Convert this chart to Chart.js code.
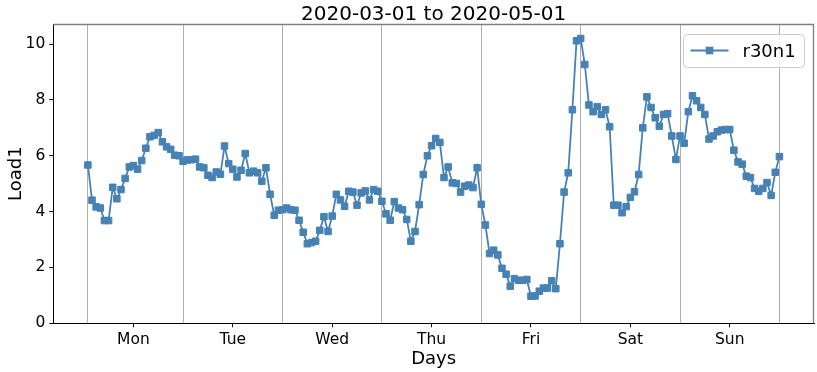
<!DOCTYPE html>
<html><head><meta charset="utf-8">
<script src="https://cdn.jsdelivr.net/npm/chart.js@4/dist/chart.umd.min.js"></script>
<style>html,body{margin:0;padding:0;background:#fff}canvas{display:block}</style>
</head><body>
<canvas id="c" width="817" height="372"></canvas>
<script>
const chartTitle = '2020-03-01 to 2020-05-01';
const seriesName = 'r30n1';
const xTitle = 'Days';
const yTitle = 'Load1';
const dayLabels = ['Mon', 'Tue', 'Wed', 'Thu', 'Fri', 'Sat', 'Sun'];
const labelHours = [12, 36, 60, 84, 108, 132, 156];
const boundaryHours = [1, 24, 48, 72, 96, 120, 144, 168];
const yTicks = [0, 2, 4, 6, 8, 10];

const hours01to24   = [5.67, 4.41, 4.17, 4.13, 3.68, 3.68, 4.87, 4.46, 4.79, 5.19, 5.60, 5.65, 5.52, 5.83, 6.27, 6.68, 6.73, 6.83, 6.50, 6.32, 6.23, 6.02, 6.00, 5.80];
const hours25to48   = [5.85, 5.86, 5.88, 5.60, 5.57, 5.30, 5.22, 5.42, 5.34, 6.35, 5.72, 5.52, 5.24, 5.48, 6.08, 5.39, 5.45, 5.39, 5.09, 5.57, 4.62, 3.87, 4.05, 4.07];
const hours49to72   = [4.13, 4.07, 4.05, 3.69, 3.26, 2.85, 2.89, 2.94, 3.33, 3.82, 3.29, 3.84, 4.62, 4.42, 4.19, 4.73, 4.70, 4.23, 4.67, 4.74, 4.42, 4.79, 4.73, 4.37];
const hours73to96   = [3.92, 3.69, 4.36, 4.13, 4.07, 3.72, 2.94, 3.29, 4.25, 5.33, 6.00, 6.36, 6.62, 6.48, 5.22, 5.60, 5.03, 5.01, 4.70, 4.91, 4.95, 4.86, 5.57, 4.26];
const hours97to120  = [3.52, 2.50, 2.62, 2.45, 1.97, 1.76, 1.33, 1.60, 1.54, 1.54, 1.57, 0.97, 0.98, 1.15, 1.26, 1.26, 1.52, 1.24, 2.85, 4.70, 5.39, 7.65, 10.12, 10.20];
const hours121to144 = [9.27, 7.82, 7.58, 7.76, 7.48, 7.65, 7.04, 4.23, 4.23, 3.96, 4.18, 4.51, 4.71, 5.33, 7.00, 8.11, 7.73, 7.36, 7.06, 7.48, 7.51, 6.71, 5.87, 6.71];
const hours145to168 = [6.45, 7.58, 8.15, 7.97, 7.73, 7.48, 6.60, 6.71, 6.86, 6.92, 6.94, 6.94, 6.20, 5.78, 5.70, 5.27, 5.22, 4.83, 4.73, 4.83, 5.04, 4.58, 5.41, 5.97];

const values = [].concat(hours01to24, hours25to48, hours49to72, hours73to96, hours97to120, hours121to144, hours145to168);
const points = values.map((v, i) => ({ x: i + 1, y: v }));

const FONT = "'DejaVu Sans', sans-serif";
const LINE = '#4682b4';

const decor = {
  id: 'decor',
  afterDraw(chart) {
    const { ctx, chartArea: a } = chart;
    ctx.save();
    // top/right spines
    ctx.strokeStyle = '#808080';
    ctx.lineWidth = 1.3;
    ctx.beginPath();
    ctx.moveTo(a.left, a.top + 0.5);
    ctx.lineTo(a.right - 0.5, a.top + 0.5);
    ctx.lineTo(a.right - 0.5, a.bottom);
    ctx.stroke();
    // title
    ctx.fillStyle = '#000';
    ctx.font = '20px ' + FONT;
    ctx.textAlign = 'center';
    ctx.textBaseline = 'alphabetic';
    ctx.fillText(chartTitle, (a.left + a.right) / 2, 20);
    // legend
    const bx = a.right - 130.5, by = a.top + 10.5, bw = 121, bh = 33, r = 4;
    ctx.beginPath();
    ctx.moveTo(bx + r, by);
    ctx.lineTo(bx + bw - r, by);
    ctx.arcTo(bx + bw, by, bx + bw, by + r, r);
    ctx.lineTo(bx + bw, by + bh - r);
    ctx.arcTo(bx + bw, by + bh, bx + bw - r, by + bh, r);
    ctx.lineTo(bx + r, by + bh);
    ctx.arcTo(bx, by + bh, bx, by + bh - r, r);
    ctx.lineTo(bx, by + r);
    ctx.arcTo(bx, by, bx + r, by, r);
    ctx.closePath();
    ctx.fillStyle = 'rgba(255,255,255,0.8)';
    ctx.fill();
    ctx.strokeStyle = '#cccccc';
    ctx.lineWidth = 1;
    ctx.stroke();
    const ly = by + 16;
    ctx.strokeStyle = LINE;
    ctx.lineWidth = 1.8;
    ctx.beginPath();
    ctx.moveTo(bx + 7, ly);
    ctx.lineTo(bx + 45, ly);
    ctx.stroke();
    ctx.fillStyle = LINE;
    ctx.fillRect(bx + 26 - 3.8, ly - 3.8, 7.6, 7.6);
    ctx.fillStyle = '#000';
    ctx.font = '18px ' + FONT;
    ctx.textAlign = 'left';
    ctx.fillText(seriesName, bx + 59, ly + 6.5);
    ctx.restore();
  }
};

new Chart(document.getElementById('c'), {
  type: 'line',
  data: {
    datasets: [{
      label: seriesName,
      data: points,
      borderColor: LINE,
      backgroundColor: LINE,
      borderWidth: 1.8,
      pointStyle: 'rect',
      pointRadius: 4.6,
      pointBorderWidth: 1,
      pointBackgroundColor: LINE,
      pointBorderColor: LINE,
      tension: 0,
      fill: false
    }]
  },
  options: {
    responsive: false,
    animation: false,
    devicePixelRatio: 1,
    layout: { autoPadding: false, padding: { top: 24, right: 3, bottom: 0, left: 0 } },
    plugins: { legend: { display: false }, title: { display: false }, tooltip: { enabled: false } },
    scales: {
      x: {
        type: 'linear',
        min: -7.35,
        max: 176.35,
        afterBuildTicks(scale) {
          scale.ticks = boundaryHours.concat(labelHours).sort((a, b) => a - b).map(v => ({ value: v }));
        },
        afterFit(scale) { scale.height = 48.7; scale.paddingRight = 0; scale.paddingLeft = 0; },
        ticks: {
          autoSkip: false,
          maxRotation: 0,
          color: '#000',
          font: { family: FONT, size: 15.5 },
          padding: 3,
          callback(v) {
            const i = labelHours.indexOf(v);
            return i >= 0 ? dayLabels[i] : '';
          }
        },
        grid: {
          drawOnChartArea: true,
          color(ctx) { return ctx.tick && boundaryHours.includes(ctx.tick.value) ? '#b0b0b0' : 'rgba(0,0,0,0)'; },
          tickColor(ctx) { return ctx.tick && labelHours.includes(ctx.tick.value) ? '#000' : 'rgba(0,0,0,0)'; },
          lineWidth: 1,
          tickLength: 4
        },
        border: { display: true, color: '#000', width: 1 },
        title: { display: true, text: xTitle, color: '#000', font: { family: FONT, size: 18, lineHeight: 1.2 }, padding: { top: 0, bottom: 2 } }
      },
      y: {
        type: 'linear',
        min: 0,
        max: 10.72,
        afterBuildTicks(scale) { scale.ticks = yTicks.map(v => ({ value: v })); },
        afterFit(scale) { scale.width = 53.3; },
        ticks: { color: '#000', font: { family: FONT, size: 15.5 }, padding: 4 },
        grid: { drawOnChartArea: false, drawTicks: true, tickLength: 4, tickColor: '#000' },
        border: { display: true, color: '#000', width: 1 },
        title: { display: true, text: yTitle, color: '#000', font: { family: FONT, size: 18, lineHeight: 1.2 }, padding: { top: 6, bottom: 0 } }
      }
    }
  },
  plugins: [decor]
});
</script>
</body></html>
